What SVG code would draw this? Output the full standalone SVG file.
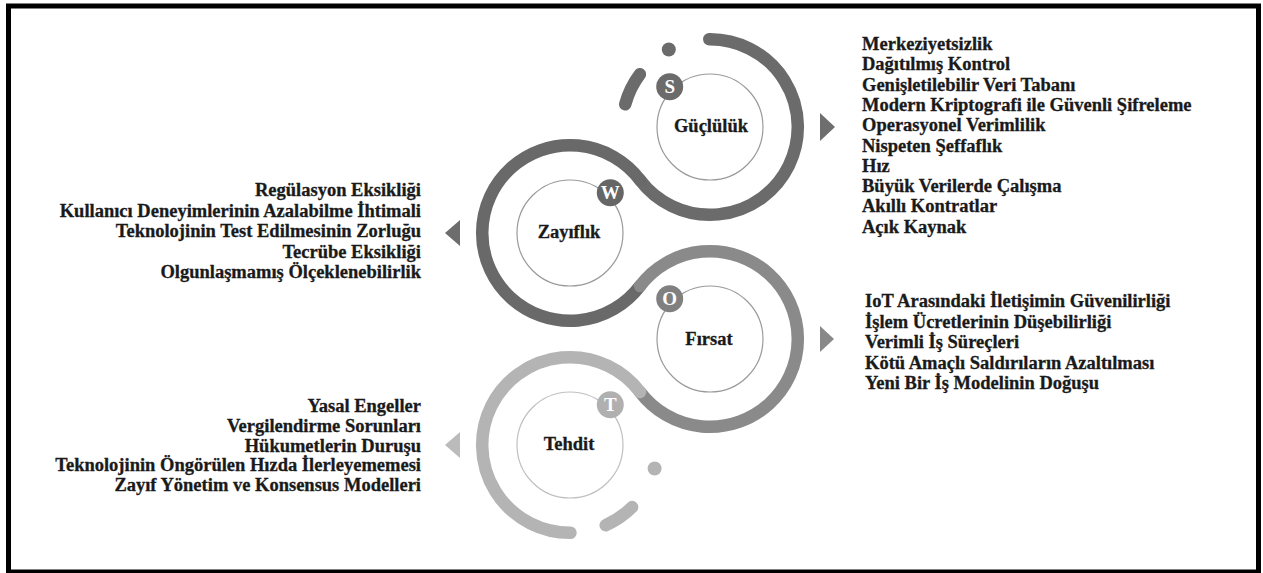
<svg xmlns="http://www.w3.org/2000/svg" width="1263" height="573" viewBox="0 0 1263 573">
<style>
.t{font-family:'Liberation Serif','Times New Roman',serif;font-weight:bold;font-size:18.5px;fill:#1a1a1a;stroke:#1a1a1a;stroke-width:0.3}
.c{text-anchor:middle}
.e{text-anchor:end}
.ring{fill:none;stroke-width:12.5;stroke-linecap:round}
.inner{fill:#fff;stroke-width:1.2}
.b{font-family:'Liberation Serif','Times New Roman',serif;font-weight:bold;font-size:19px;fill:#fff;text-anchor:middle}
</style>
<rect x="8.5" y="6" width="1250" height="566" fill="#fff" stroke="#000" stroke-width="5"/>
<g id="connectors">
<path class="ring" stroke="#6b6b6b" d="M 709.3 39.2 A 87.8 87.8 0 1 1 640 180"/>
<path class="ring" stroke="#696969" d="M 640 180 A 87.8 87.8 0 1 0 640 286"/>
<path class="ring" stroke="#8a8a8a" d="M 640 286 A 87.8 87.8 0 1 1 640 392"/>
<path class="ring" stroke="#b4b4b4" d="M 640 392 A 87.8 87.8 0 1 0 570.5 532.8"/>
<path class="ring" stroke="#6b6b6b" d="M 639.9 74.2 A 87.8 87.8 0 0 0 625.2 104.3"/>
<circle cx="668.8" cy="49.5" r="7" fill="#6b6b6b"/>
<path class="ring" stroke="#b4b4b4" d="M 632.1 507.1 A 87.8 87.8 0 0 1 605.7 525.2"/>
<circle cx="654.6" cy="468.5" r="7" fill="#b4b4b4"/>
<polygon points="820,113 835,127 820,141" fill="#6e6e6e"/>
<polygon points="460,220 445,233 460,246" fill="#6d6d6d"/>
<polygon points="820,326 834,339 820,352" fill="#888"/>
<polygon points="460,432 445,445 460,458" fill="#bbb"/>
</g>
<g id="guclu">
<circle class="inner" cx="710" cy="127" r="53" stroke="#9a9a9a"/>
<circle cx="669.7" cy="86.7" r="13.5" fill="#6b6b6b"/>
<text class="b" x="669.7" y="93">S</text>
<text class="t c" x="711" y="132">Güçlülük</text>
</g>
<g id="zayif">
<circle class="inner" cx="570" cy="233" r="53" stroke="#9a9a9a"/>
<circle cx="610.3" cy="192.7" r="13.5" fill="#666"/>
<text class="b" x="610.3" y="199">W</text>
<text class="t c" x="569" y="238">Zayıflık</text>
</g>
<g id="firsat">
<circle class="inner" cx="710" cy="339" r="53" stroke="#9a9a9a"/>
<circle cx="669.7" cy="298.7" r="13.5" fill="#808080"/>
<text class="b" x="669.7" y="305">O</text>
<text class="t c" x="709" y="345">Fırsat</text>
</g>
<g id="tehdit">
<circle class="inner" cx="570" cy="445" r="53" stroke="#c0c0c0"/>
<circle cx="610.3" cy="404.7" r="13.5" fill="#b0b0b0"/>
<text class="b" x="610.3" y="411">T</text>
<text class="t c" x="569" y="450">Tehdit</text>
</g>
<g id="guclu-list">
<text class="t" x="862" y="50">Merkeziyetsizlik</text>
<text class="t" x="862" y="70.3">Dağıtılmış Kontrol</text>
<text class="t" x="862" y="90.6">Genişletilebilir Veri Tabanı</text>
<text class="t" x="862" y="110.9">Modern Kriptografi ile Güvenli Şifreleme</text>
<text class="t" x="862" y="131.2">Operasyonel Verimlilik</text>
<text class="t" x="862" y="151.5">Nispeten Şeffaflık</text>
<text class="t" x="862" y="171.8">Hız</text>
<text class="t" x="862" y="192.1">Büyük Verilerde Çalışma</text>
<text class="t" x="862" y="212.4">Akıllı Kontratlar</text>
<text class="t" x="862" y="232.7">Açık Kaynak</text>
</g>
<g id="zayif-list">
<text class="t e" x="421" y="196">Regülasyon Eksikliği</text>
<text class="t e" x="421" y="216.5">Kullanıcı Deneyimlerinin Azalabilme İhtimali</text>
<text class="t e" x="421" y="237">Teknolojinin Test Edilmesinin Zorluğu</text>
<text class="t e" x="421" y="257.5">Tecrübe Eksikliği</text>
<text class="t e" x="421" y="278">Olgunlaşmamış Ölçeklenebilirlik</text>
</g>
<g id="firsat-list">
<text class="t" x="865" y="307">IoT Arasındaki İletişimin Güvenilirliği</text>
<text class="t" x="865" y="327.5">İşlem Ücretlerinin Düşebilirliği</text>
<text class="t" x="865" y="348">Verimli İş Süreçleri</text>
<text class="t" x="865" y="368.5">Kötü Amaçlı Saldırıların Azaltılması</text>
<text class="t" x="865" y="389">Yeni Bir İş Modelinin Doğuşu</text>
</g>
<g id="tehdit-list">
<text class="t e" x="421" y="412">Yasal Engeller</text>
<text class="t e" x="421" y="432">Vergilendirme Sorunları</text>
<text class="t e" x="421" y="451.5">Hükumetlerin Duruşu</text>
<text class="t e" x="421" y="471">Teknolojinin Öngörülen Hızda İlerleyememesi</text>
<text class="t e" x="421" y="491">Zayıf Yönetim ve Konsensus Modelleri</text>
</g>
</svg>
